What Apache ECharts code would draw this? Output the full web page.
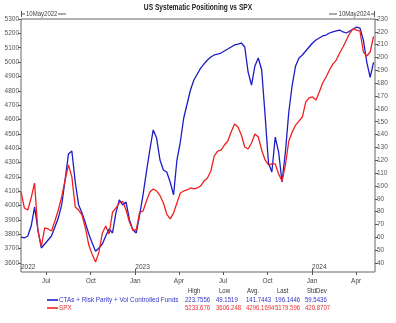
<!DOCTYPE html>
<html>
<head>
<meta charset="utf-8">
<script src="https://cdn.jsdelivr.net/npm/echarts@6/dist/echarts.min.js"></script>
<style>
  html, body { margin: 0; padding: 0; background: #fff; }
  #chart { width: 396px; height: 323px; }
</style>
</head>
<body>
<div id="chart"></div>
<script>
// Weekly observation dates
const dates = [
  '2022-05-10','2022-05-17','2022-05-24','2022-05-31','2022-06-07','2022-06-14','2022-06-21','2022-06-28',
  '2022-07-05','2022-07-12','2022-07-19','2022-07-26','2022-08-02','2022-08-09','2022-08-16','2022-08-23',
  '2022-08-30','2022-09-06','2022-09-13','2022-09-20','2022-09-27','2022-10-04','2022-10-11','2022-10-18',
  '2022-10-25','2022-11-01','2022-11-08','2022-11-15','2022-11-22','2022-11-29','2022-12-06','2022-12-13',
  '2022-12-20','2022-12-27','2023-01-03','2023-01-10','2023-01-17','2023-01-24','2023-01-31','2023-02-07',
  '2023-02-14','2023-02-21','2023-02-28','2023-03-07','2023-03-14','2023-03-21','2023-03-28','2023-04-04',
  '2023-04-11','2023-04-18','2023-04-25','2023-05-02','2023-05-09','2023-05-16','2023-05-23','2023-05-30',
  '2023-06-06','2023-06-13','2023-06-20','2023-06-27','2023-07-04','2023-07-11','2023-07-18','2023-07-25',
  '2023-08-01','2023-08-08','2023-08-15','2023-08-22','2023-08-29','2023-09-05','2023-09-12','2023-09-19',
  '2023-09-26','2023-10-03','2023-10-10','2023-10-17','2023-10-24','2023-10-31','2023-11-07','2023-11-14',
  '2023-11-21','2023-11-28','2023-12-05','2023-12-12','2023-12-19','2023-12-26','2024-01-02','2024-01-09',
  '2024-01-16','2024-01-23','2024-01-30','2024-02-06','2024-02-13','2024-02-20','2024-02-27','2024-03-05',
  '2024-03-12','2024-03-19','2024-03-26','2024-04-02','2024-04-09','2024-04-16','2024-04-23','2024-04-30',
  '2024-05-07'
];

// CTAs + Risk Parity + Vol Controlled Funds positioning (right axis)
const ctaPositioning = [
  60.2, 59.5, 61.0, 68.8, 83.6, 65.7, 51.7, 54.8, 57.9, 61.0,
  68.0, 75.0, 85.2, 104.6, 124.9, 127.2, 103.1, 85.2, 79.0, 71.1,
  62.6, 55.6, 49.1519, 51.7, 54.8, 61.0, 66.5, 63.4, 79.0, 89.1,
  85.2, 87.5, 73.5, 65.7, 63.4, 77.4, 93.0, 110.9, 128.0, 143.6,
  137.3, 120.2, 112.4, 110.9, 103.1, 93.0, 120.2, 134.2, 152.9, 163.8,
  174.7, 182.5, 187.2, 191.8, 195.0, 198.1, 200.4, 202.0, 202.7, 203.5,
  205.1, 206.6, 208.2, 209.8, 210.5, 211.3, 208.2, 188.7, 178.6, 193.4,
  199.6, 190.3, 155.2, 117.9, 110.9, 138.1, 126.4, 103.1, 126.4, 157.6,
  178.6, 193.4, 199.6, 202.0, 205.1, 208.2, 211.3, 213.6, 215.2, 216.8,
  217.5, 219.1, 219.9, 220.7, 221.4, 219.9, 219.1, 220.7, 222.2, 223.7556,
  222.9, 213.6, 196.5, 184.5, 196.1446
];

// S&P 500 index level (left axis)
const spxLevel = [
  4095, 3983, 3969, 4053, 4157, 3820, 3715, 3844, 3837, 3823,
  3893, 3969, 4060, 4178, 4283, 4200, 3990, 3969, 3934, 3844,
  3725, 3660, 3606.248, 3677, 3809, 3858, 3802, 3955, 3983, 4018,
  4030, 3969, 3886, 3830, 3830, 3955, 3962, 4032, 4095, 4116,
  4102, 4070, 4018, 3941, 3907, 3948, 4018, 4088, 4102, 4109,
  4123, 4116, 4123, 4137, 4171, 4192, 4241, 4345, 4380, 4387,
  4422, 4450, 4512, 4568, 4548, 4492, 4408, 4394, 4436, 4499,
  4478, 4387, 4318, 4283, 4290, 4290, 4220, 4171, 4283, 4450,
  4512, 4561, 4589, 4617, 4722, 4750, 4757, 4736, 4791, 4854,
  4896, 4945, 4986, 5014, 5063, 5105, 5154, 5202, 5233.676, 5222,
  5216, 5070, 5042, 5070, 5179.596
];

// Axis ticks and labels
const leftTicks = [3600,3700,3800,3900,4000,4100,4200,4300,4400,4500,4600,4700,4800,4900,5000,5100,5200,5300];
const rightTicks = [40,50,60,70,80,90,100,110,120,130,140,150,160,170,180,190,200,210,220,230];
const quarterDates = ['2022-07-01','2022-10-01','2023-01-01','2023-04-01','2023-07-01','2023-10-01','2024-01-01','2024-04-01'];
const quarterLabels = ['Jul','Oct','Jan','Apr','Jul','Oct','Jan','Apr'];
const yearDates = ['2022-05-10','2023-01-01','2024-01-01'];
const yearLabels = ['2022','2023','2024'];
const rangeStart = '2022-05-10';
const rangeEnd = '2024-05-10';
const rangeLabels = ['10May2022', '10May2024'];
const chartTitle = 'US Systematic Positioning vs SPX';

// Summary statistics table
const statHeaders = ['High', 'Low', 'Avg.', 'Last', 'StdDev'];
const seriesNames = ['CTAs + Risk Parity + Vol Controlled Funds', 'SPX'];
const ctaStats = ['223.7556', '49.1519', '141.7443', '196.1446', '59.5436'];
const spxStats = ['5233.676', '3606.248', '4296.1694', '5179.596', '420.8707'];

const BLUE = '#1c1cc4';
const RED = '#f02020';
const FONT = '"Liberation Sans", Arial, sans-serif';
const AXIS = '#555';

// dates become millisecond timestamps on a linear x scale
const ts = s => echarts.time.parse(s).getTime();
const quarterTs = quarterDates.map(ts);
const yearTs = yearDates.map(ts);
const labelFor = (list, labels) => v => {
  const i = list.indexOf(v);
  return i >= 0 ? labels[i] : '';
};

const chart = echarts.init(document.getElementById('chart'), null, { renderer: 'canvas' });

// condensed text: horizontally squeezed around its anchor point
const txt = (x, y, text, fill, opts) => {
  const o = opts || {};
  return {
    type: 'text', x: x, y: y, scaleX: o.sx || 0.86,
    style: {
      text: text, fill: fill,
      font: (o.bold ? 'bold ' : '') + (o.size || 7) + 'px ' + FONT,
      verticalAlign: 'middle', align: o.align || 'left'
    }
  };
};
const seg = (x1, y1, x2, y2, stroke, w) => ({
  type: 'line', shape: { x1: x1, y1: y1, x2: x2, y2: y2 },
  style: { stroke: stroke, lineWidth: w || 1 }
});

const colX = [185, 216, 246, 275, 305];
const headX = [188, 219, 247, 277, 307];

const graphics = [
  txt(198, 8, chartTitle, '#222', { bold: true, size: 8.5, sx: 0.78, align: 'center' }),
  // date range markers above the plot
  seg(21.5, 11, 21.5, 17, '#555'), seg(21.5, 14, 25, 14, '#555'),
  txt(26, 14, rangeLabels[0], '#444'),
  seg(58, 14, 66, 14, '#555'),
  seg(329, 14, 337, 14, '#555'),
  txt(370, 14, rangeLabels[1], '#444', { align: 'right' }),
  seg(371, 14, 374.5, 14, '#555'), seg(374.5, 11, 374.5, 17, '#555'),
  // legend swatches and names
  seg(47, 300, 58, 300, BLUE, 1.6),
  seg(47, 308, 58, 308, RED, 1.6),
  txt(59, 300, seriesNames[0], '#3434c8', { sx: 0.91 }),
  txt(59, 308, seriesNames[1], '#ee3030', { sx: 0.91 })
];
statHeaders.forEach((h, i) => graphics.push(txt(headX[i], 291.5, h, '#333')));
ctaStats.forEach((s, i) => graphics.push(txt(colX[i], 300, s, '#3434c8')));
spxStats.forEach((s, i) => graphics.push(txt(colX[i], 308, s, '#ee3030')));

const tickLabel = { fontFamily: FONT, fontSize: 6.5, color: '#555', margin: 2, formatter: v => String(v) };

const option = {
  animation: false,
  backgroundColor: '#fff',
  grid: {
    left: 21, right: 21, top: 19, bottom: 51,
    show: true, borderColor: '#666', borderWidth: 1, backgroundColor: 'transparent'
  },
  xAxis: [
    {
      type: 'value',
      min: ts(rangeStart), max: ts(rangeEnd),
      axisLine: { show: false },
      splitLine: { show: false },
      axisTick: { show: true, length: 3, lineStyle: { color: AXIS }, customValues: quarterTs },
      axisLabel: {
        customValues: quarterTs,
        formatter: labelFor(quarterTs, quarterLabels),
        fontFamily: FONT, fontSize: 6.5, color: '#444', margin: 6
      }
    },
    {
      type: 'value',
      min: ts(rangeStart), max: ts(rangeEnd),
      position: 'bottom',
      axisLine: { show: false },
      splitLine: { show: false },
      axisTick: { show: true, inside: true, length: 3, lineStyle: { color: AXIS }, customValues: yearTs.slice(1) },
      axisLabel: {
        inside: true,
        customValues: yearTs,
        formatter: labelFor(yearTs, yearLabels),
        align: 'left',
        fontFamily: FONT, fontSize: 6.5, color: '#444', margin: 1
      }
    }
  ],
  yAxis: [
    {
      type: 'value', position: 'left',
      min: 3537.3, max: 5300,
      axisLine: { show: false },
      splitLine: { show: false },
      axisTick: { show: true, length: 3, lineStyle: { color: AXIS }, customValues: leftTicks },
      axisLabel: Object.assign({ customValues: leftTicks }, tickLabel)
    },
    {
      type: 'value', position: 'right',
      min: 33.0, max: 230,
      axisLine: { show: false },
      splitLine: { show: false },
      axisTick: { show: true, length: 3, lineStyle: { color: AXIS }, customValues: rightTicks },
      axisLabel: Object.assign({ customValues: rightTicks }, tickLabel)
    }
  ],
  series: [
    {
      name: seriesNames[0], type: 'line', xAxisIndex: 0, yAxisIndex: 1,
      data: dates.map((d, i) => [ts(d), ctaPositioning[i]]),
      showSymbol: false, smooth: false,
      lineStyle: { color: BLUE, width: 1.3 }, itemStyle: { color: BLUE }
    },
    {
      name: seriesNames[1], type: 'line', xAxisIndex: 0, yAxisIndex: 0,
      data: dates.map((d, i) => [ts(d), spxLevel[i]]),
      showSymbol: false, smooth: false,
      lineStyle: { color: RED, width: 1.3 }, itemStyle: { color: RED }
    }
  ],
  graphic: graphics
};

chart.setOption(option);
</script>
</body>
</html>
